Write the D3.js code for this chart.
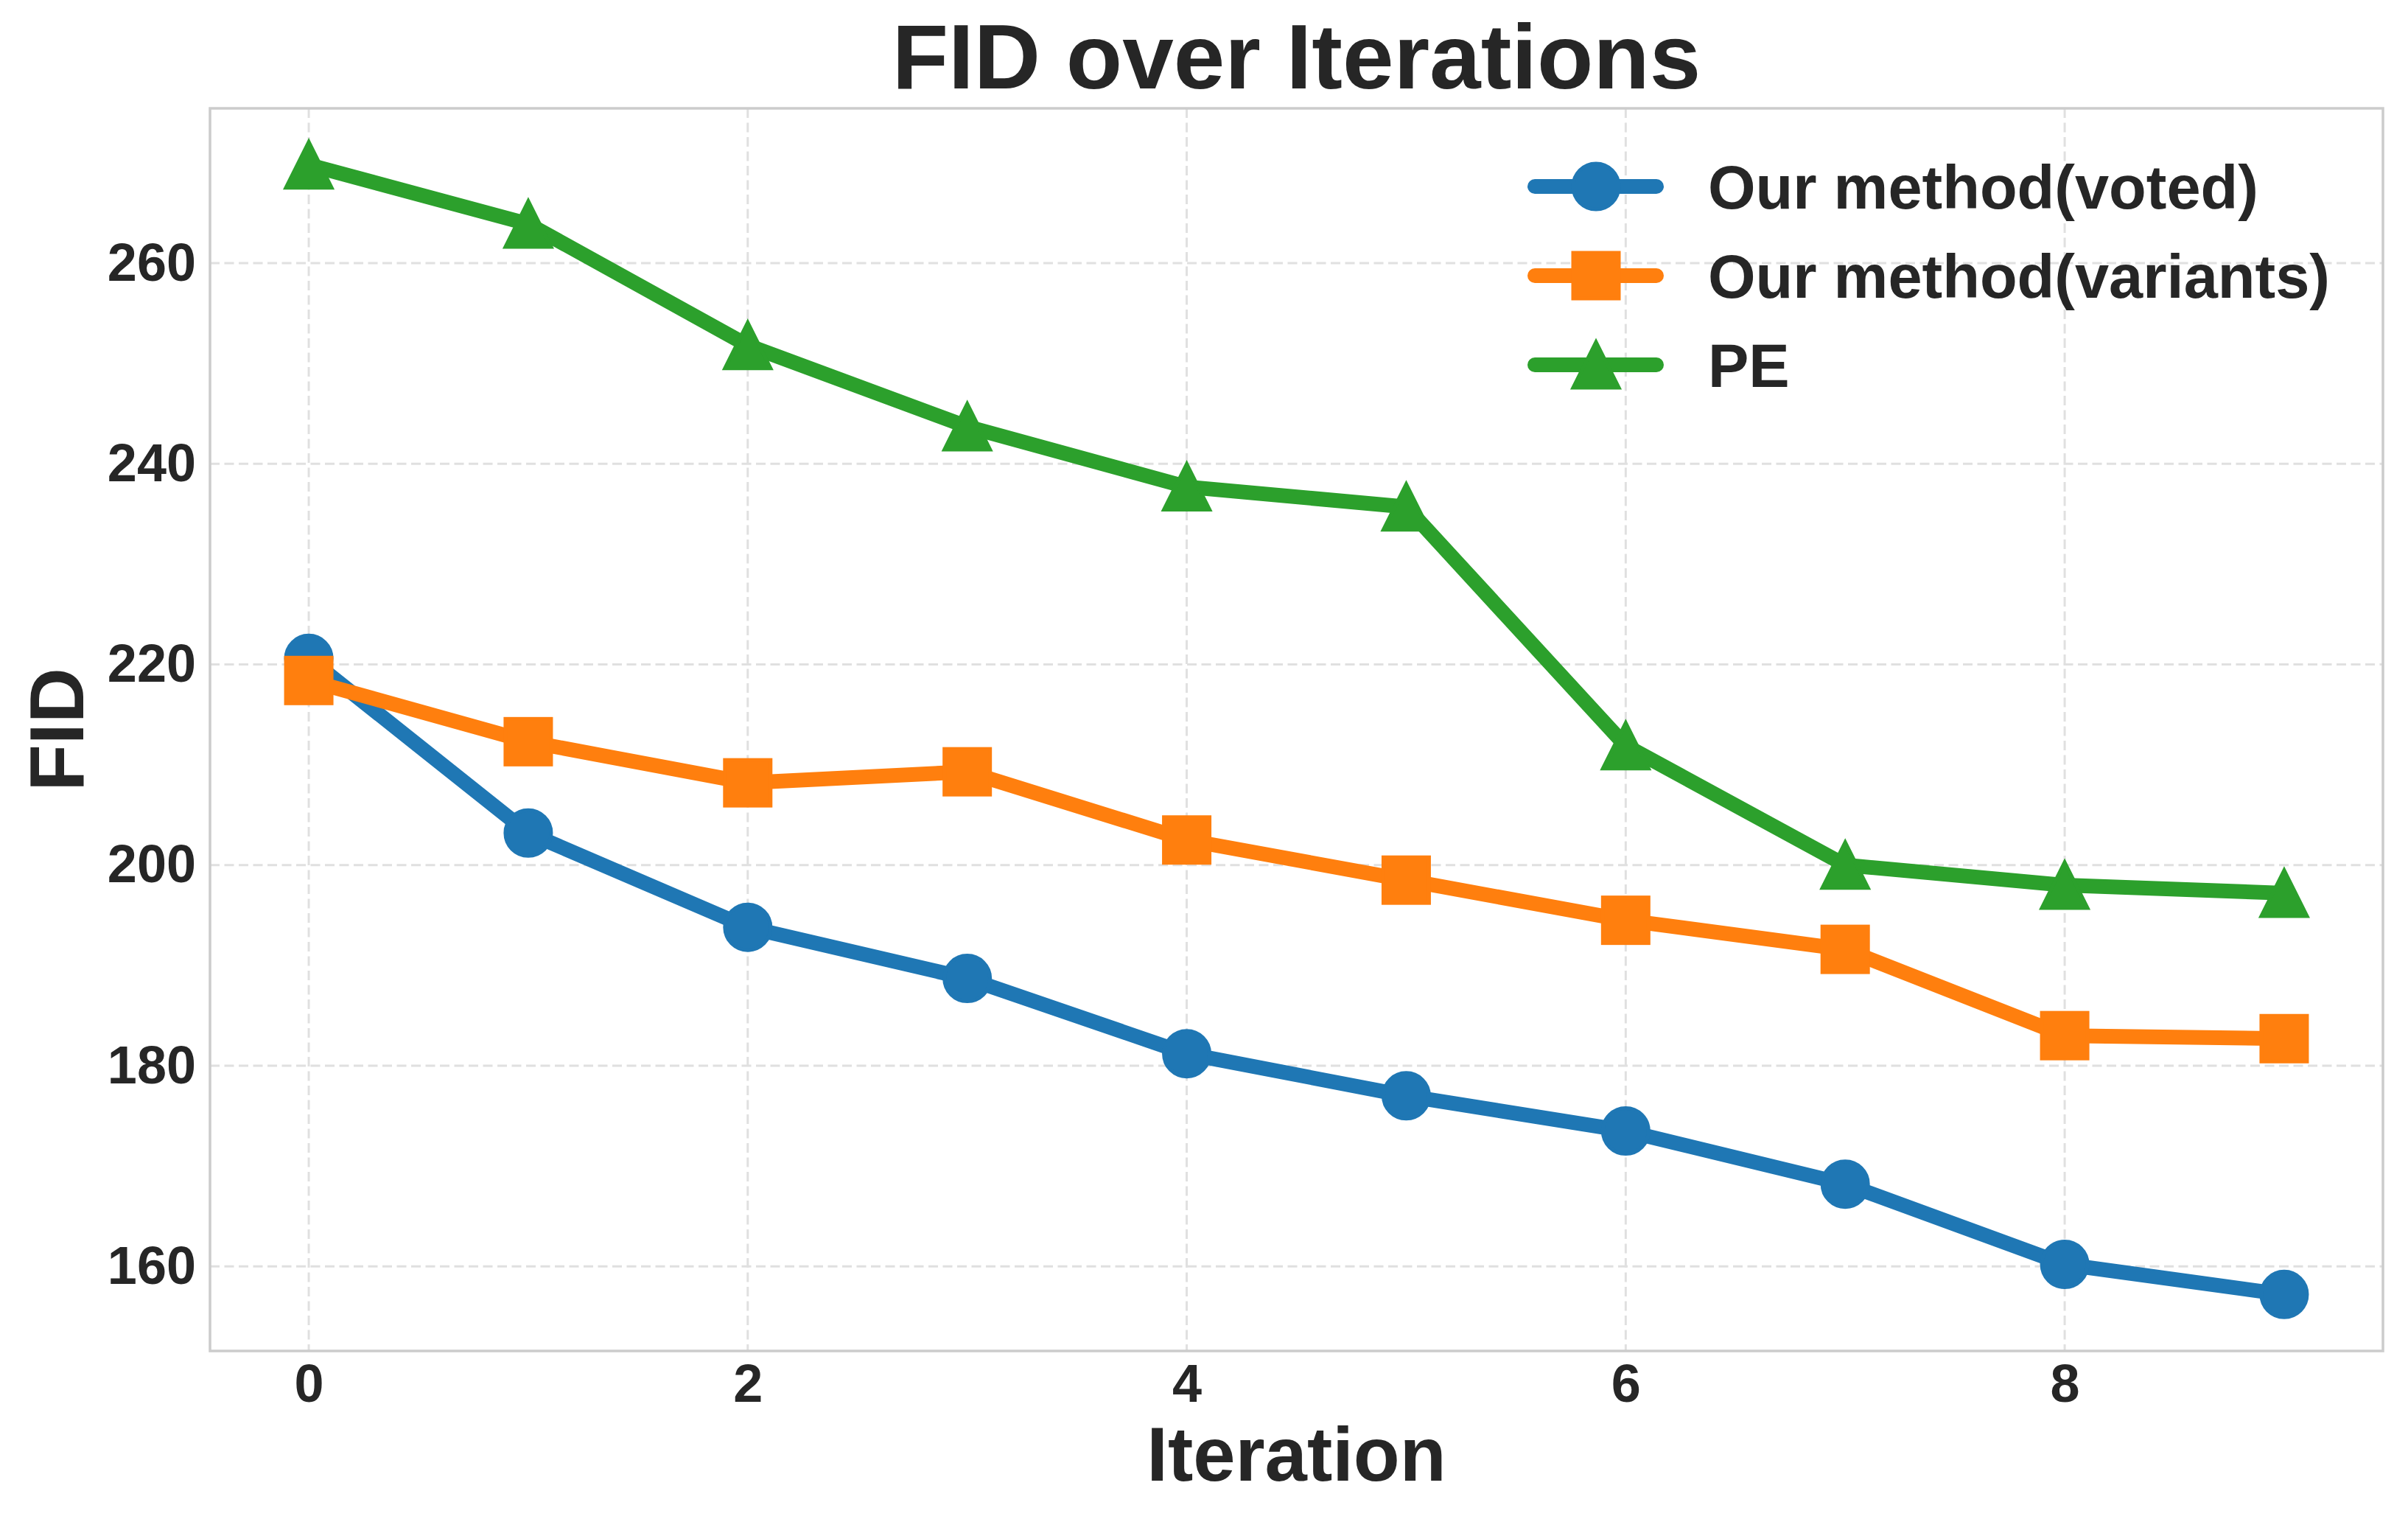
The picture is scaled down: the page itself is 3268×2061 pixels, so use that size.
<!DOCTYPE html>
<html lang="en">
  <head>
    <meta charset="UTF-8" />
    <title>FID over Iterations</title>
    <script src="https://d3js.org/d3.v7.min.js"></script>
    <style>
      body {
        margin: 0;
        background: #fff;
        font-family: 'Liberation Sans', Arial, sans-serif;
        font-weight: 700;
      }
      text {
        fill: #262626;
        font-weight: 700;
      }
      .grid line {
        stroke: #e0e0e0;
        stroke-width: 3px;
        stroke-dasharray: 13 6.5;
      }
      .spine {
        fill: none;
        stroke: #cccccc;
        stroke-width: 3.5px;
      }
      .series {
        fill: none;
        stroke-width: 20px;
        stroke-linejoin: round;
        stroke-linecap: round;
      }
    </style>
  </head>
  <body>
    <svg width="3268" height="2061"></svg>
    <script>
      const iterations = [0, 1, 2, 3, 4, 5, 6, 7, 8, 9];
      const seriesNames = ['Our method(voted)', 'Our method(variants)', 'PE'];
      const voted = [220.6, 203.2, 193.8, 188.7, 181.2, 177.0, 173.5, 168.2, 160.2, 157.2];
      const variants = [218.4, 212.3, 208.2, 209.3, 202.5, 198.5, 194.5, 191.6, 183.0, 182.7];
      const pe = [269.8, 263.9, 251.8, 243.7, 237.7, 235.7, 211.9, 200.0, 198.0, 197.2];
      const xTicks = [0, 2, 4, 6, 8];
      const yTicks = [160, 180, 200, 220, 240, 260];

      const colors = ['#1f77b4', '#ff7f0e', '#2ca02c'];
      const markers = ['circle', 'square', 'triangle'];
      const allValues = [voted, variants, pe];

      const svg = d3.select('svg');
      const plotLeft = 285, plotRight = 3234, plotTop = 147, plotBottom = 1833;

      const xPad = (d3.max(iterations) - d3.min(iterations)) * 0.05;
      const x = d3
        .scaleLinear()
        .domain([d3.min(iterations) - xPad, d3.max(iterations) + xPad])
        .range([plotLeft, plotRight]);

      const yExt = d3.extent(allValues.flat());
      const yPad = (yExt[1] - yExt[0]) * 0.05;
      const y = d3
        .scaleLinear()
        .domain([yExt[0] - yPad, yExt[1] + yPad])
        .range([plotBottom, plotTop]);

      // grid
      const grid = svg.append('g').attr('class', 'grid');
      grid
        .selectAll('.gx')
        .data(xTicks)
        .enter()
        .append('line')
        .attr('x1', (d) => x(d))
        .attr('x2', (d) => x(d))
        .attr('y1', plotTop)
        .attr('y2', plotBottom);
      grid
        .selectAll('.gy')
        .data(yTicks)
        .enter()
        .append('line')
        .attr('x1', plotLeft)
        .attr('x2', plotRight)
        .attr('y1', (d) => y(d))
        .attr('y2', (d) => y(d));

      svg
        .append('rect')
        .attr('class', 'spine')
        .attr('x', plotLeft)
        .attr('y', plotTop)
        .attr('width', plotRight - plotLeft)
        .attr('height', plotBottom - plotTop);

      // tick labels
      const xAxis = d3.axisBottom(x).tickValues(xTicks).tickSize(0).tickPadding(18).tickFormat(d3.format('d'));
      const gx = svg.append('g').attr('transform', `translate(0,${plotBottom})`).call(xAxis);
      gx.select('.domain').remove();
      gx.selectAll('text').attr('font-size', 72).attr('font-family', 'Liberation Sans, Arial, sans-serif').attr('fill', '#262626');

      const yAxis = d3.axisLeft(y).tickValues(yTicks).tickSize(0).tickPadding(19).tickFormat(d3.format('d'));
      const gy = svg.append('g').attr('transform', `translate(${plotLeft},0)`).call(yAxis);
      gy.select('.domain').remove();
      gy.selectAll('text').attr('font-size', 72).attr('font-family', 'Liberation Sans, Arial, sans-serif').attr('fill', '#262626');

      // marker drawing
      function drawMarker(sel, type, color) {
        if (type === 'circle') {
          sel.append('circle').attr('r', 31).attr('fill', color).attr('stroke', color).attr('stroke-width', 5);
        } else if (type === 'square') {
          sel.append('rect').attr('x', -31).attr('y', -31).attr('width', 62).attr('height', 62)
            .attr('fill', color).attr('stroke', color).attr('stroke-width', 5);
        } else {
          sel.append('path').attr('d', 'M0,-31L-31,31L31,31Z')
            .attr('fill', color).attr('stroke', color).attr('stroke-width', 5).attr('stroke-linejoin', 'miter');
        }
      }

      const line = d3
        .line()
        .x((d, i) => x(iterations[i]))
        .y((d) => y(d));

      allValues.forEach((vals, k) => {
        const g = svg.append('g');
        g.append('path').attr('class', 'series').attr('d', line(vals)).attr('stroke', colors[k]);
        g.selectAll('.m')
          .data(vals)
          .enter()
          .append('g')
          .attr('transform', (d, i) => `translate(${x(iterations[i])},${y(d)})`)
          .each(function () {
            drawMarker(d3.select(this), markers[k], colors[k]);
          });
      });

      // legend
      const legend = svg.append('g').attr('transform', 'translate(2083,253)');
      seriesNames.forEach((name, k) => {
        const row = legend.append('g').attr('transform', `translate(0,${k * 121})`);
        row.append('line').attr('x1', 0).attr('x2', 165).attr('y1', 0).attr('y2', 0)
          .attr('stroke', colors[k]).attr('stroke-width', 20).attr('stroke-linecap', 'round');
        drawMarker(row.append('g').attr('transform', 'translate(83,0)'), markers[k], colors[k]);
        row.append('text').attr('x', 235).attr('y', 30).attr('font-size', 83).text(name);
      });

      // title and labels
      svg.append('text').attr('x', (plotLeft + plotRight) / 2).attr('y', 120)
        .attr('text-anchor', 'middle').attr('font-size', 125).text('FID over Iterations');
      svg.append('text').attr('x', (plotLeft + plotRight) / 2).attr('y', 2009)
        .attr('text-anchor', 'middle').attr('font-size', 103).text('Iteration');
      svg.append('text').attr('transform', `translate(113,${(plotTop + plotBottom) / 2}) rotate(-90)`)
        .attr('text-anchor', 'middle').attr('font-size', 104).text('FID');
    </script>
  </body>
</html>
